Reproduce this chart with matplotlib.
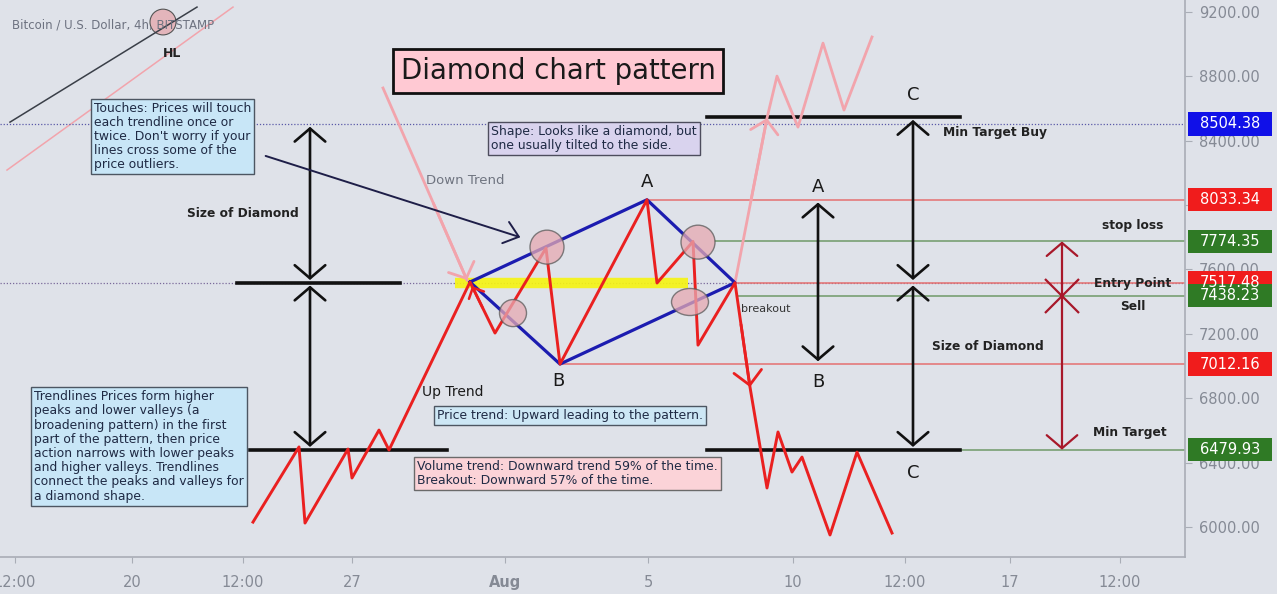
import matplotlib
matplotlib.use('Agg')
import matplotlib.pyplot as plt
from matplotlib.patches import Ellipse, Rectangle
from matplotlib.transforms import blended_transform_factory

BG = '#dfe2e9'
RED = '#ea2020'
BLUE = '#1c1cb0'
PINK = '#f2a4ac'
MAROON = '#a8182a'
GRID_TXT = '#858a95'

# time axis: bar positions and their labels
tick_pos = [15, 132, 243, 352, 505, 648, 793, 905, 1010, 1120]
tick_lbl = ['12:00', '20', '12:00', '27', 'Aug', '5', '10', '12:00', '17', '12:00']

# main price path (bar, USD)
path_x = [253, 299, 305, 348, 352, 379, 389, 470, 495, 546, 560, 647, 657,
          693, 698, 735, 750, 767, 778, 792, 802, 830, 857, 892]
path_y = [6030, 6497, 6024, 6484, 6304, 6602, 6478, 7522, 7205, 7733,
          7012.16, 8033.34, 7516, 7774.35, 7130, 7517.48, 6869, 6242, 6590,
          6341, 6434, 5950, 6465, 5962]

# faded alternative: upside breakout
alt_x = [735, 767, 777, 798, 823, 844, 872]
alt_y = [7517.48, 8541, 8802, 8485, 9007, 8591, 9045]

# faded down trend arrow into the pattern
down_x = [383, 467]
down_y = [8728, 7534]

# diamond outline: left, A, right, B
diamond_x = [470, 647, 735, 560, 470]
diamond_y = [7522, 8033.34, 7517.48, 7012.16, 7522]

# price levels shown on the right scale
levels = [8504.38, 8033.34, 7774.35, 7517.48, 7438.23, 7012.16, 6479.93]
level_colors = ['#1010e8', '#f01c1c', '#2f7a25', '#f01c1c', '#2f7a25',
                '#f01c1c', '#2f7a25']
level_start = [None, 647, 715, 735, 738, 560, 960]
c_top = 8547

# touch points on the trendlines (bar, USD, width in bars, height in USD)
touches = [(547, 7739, 34, 211), (513, 7329, 27, 168),
           (698, 7770, 34, 211), (690, 7398, 37, 168)]

scale_ticks = list(range(6000, 9201, 400))


def along(xs, ys, i, f):
    """point at fraction f of segment i of a polyline"""
    return (xs[i] + f * (xs[i + 1] - xs[i]), ys[i] + f * (ys[i + 1] - ys[i]))


fig = plt.figure(figsize=(12.77, 5.94), dpi=100, facecolor=BG)
ax = fig.add_axes([0, 37 / 594, 1185 / 1277, 557 / 594])
ax.set_facecolor(BG)
ax.set_xlim(0, 1185)
ax.set_ylim(5813, 9275)

for s in ['left', 'top']:
    ax.spines[s].set_visible(False)
for s in ['right', 'bottom']:
    ax.spines[s].set_color('#a9adb6')
    ax.spines[s].set_linewidth(1.2)

ax.yaxis.tick_right()
ax.set_yticks(scale_ticks)
# 8000 sits under the 8033.34 tag
ax.set_yticklabels(['' if v == 8000 else f'{v:.2f}' for v in scale_ticks])
ax.tick_params(axis='y', length=5, pad=5, colors='#a9adb6',
               labelcolor=GRID_TXT, labelsize=10.5)
ax.set_xticks(tick_pos)
ax.set_xticklabels(tick_lbl)
ax.tick_params(axis='x', length=4, pad=9, colors='#a9adb6',
               labelcolor=GRID_TXT, labelsize=10.5)
for t in ax.get_xticklabels():
    if t.get_text() == 'Aug':
        t.set_fontweight('bold')

# leftover of the underlying chart in the corner
ax.plot([10, 197], [8516, 9231], color='#3a3f48', lw=1.1)
ax.plot([7, 233], [8218, 9231], color=PINK, lw=1.1)
ax.add_patch(Ellipse((163, 9138), 26, 160, fc='#e3b5bb', ec='#555', lw=0.8))
ax.text(12, 9119, 'Bitcoin / U.S. Dollar, 4h, BITSTAMP', color='#6d7280',
        fontsize=8.5, va='center')
ax.text(172, 8945, 'HL', fontsize=9, fontweight='bold', color='#222',
        ha='center', va='center')

# dotted price lines across the chart
ax.axhline(levels[0], color='#5a5aa8', lw=0.9, ls=(0, (1, 1.5)))
ax.axhline(levels[3], color='#7a6a9a', lw=0.9, ls=(0, (1, 1.5)))

# thin level lines to the price scale
for v, c, x0 in zip(levels, level_colors, level_start):
    if x0 is None:
        continue
    lc = '#e57070' if c == '#f01c1c' else '#6f9a68'
    ax.plot([x0, 1185], [v, v], color=lc, lw=1.1)

# yellow band at the entry level
ax.plot([455, 688], [levels[3], levels[3]], color='#f6f410', lw=7.5,
        solid_capstyle='butt', alpha=0.9)

# thick black reference lines
ax.plot([237, 400], [levels[3], levels[3]], color='#111', lw=2.6)
ax.plot([250, 447], [levels[6], levels[6]], color='#111', lw=2.6)
ax.plot([707, 960], [c_top, c_top], color='#111', lw=2.6)
ax.plot([707, 960], [levels[6], levels[6]], color='#111', lw=2.6)

head = '->,head_length=0.45,head_width=0.5'

# faded paths
ax.plot(alt_x, alt_y, color=PINK, lw=2)
ax.annotate('', xy=(alt_x[1], alt_y[1]), xytext=along(alt_x, alt_y, 0, 0.5),
            arrowprops=dict(arrowstyle=head, color=PINK, lw=2,
                            mutation_scale=20, shrinkA=0, shrinkB=0))
ax.plot(down_x, down_y, color=PINK, lw=2)
ax.annotate('', xy=(down_x[1], down_y[1]),
            xytext=along(down_x, down_y, 0, 0.6),
            arrowprops=dict(arrowstyle=head, color=PINK, lw=2,
                            mutation_scale=20, shrinkA=0, shrinkB=0))

# diamond and price path
ax.plot(diamond_x, diamond_y, color=BLUE, lw=2.3, zorder=4)
ax.plot(path_x, path_y, color=RED, lw=2.1, zorder=5)
ax.annotate('', xy=(path_x[16], path_y[16]),
            xytext=along(path_x, path_y, 15, 0.4),
            arrowprops=dict(arrowstyle='->,head_length=0.5,head_width=0.5',
                            color=RED, lw=2, mutation_scale=20,
                            shrinkA=0, shrinkB=0), zorder=5)
ax.annotate('', xy=along(path_x, path_y, 7, 0.08),
            xytext=along(path_x, path_y, 7, 0.5),
            arrowprops=dict(arrowstyle='->,head_length=0.3,head_width=0.3',
                            color=RED, lw=1.8, mutation_scale=20,
                            shrinkA=0, shrinkB=0), zorder=5)

for cx, cy, w, h in touches:
    ax.add_patch(Ellipse((cx, cy), w, h, fc='#e6a9b2', ec='#5a5a5a', lw=1,
                         alpha=0.75, zorder=6))

# measuring arrows
arrow_kw = dict(arrowstyle='<->,head_length=0.47,head_width=0.55',
                color='#111', lw=1.9, mutation_scale=20, shrinkA=2, shrinkB=2)
for x, y0, y1 in [(310, levels[0], levels[3]), (310, levels[3], levels[6]),
                  (913, c_top, levels[3]), (913, levels[3], levels[6]),
                  (818, levels[1], levels[5])]:
    ax.annotate('', xy=(x, y1), xytext=(x, y0), arrowprops=arrow_kw)

red_kw = dict(arrowstyle='->,head_length=0.47,head_width=0.55',
              color=MAROON, lw=1.6, mutation_scale=20, shrinkA=0, shrinkB=0)
ax.annotate('', xy=(1062, levels[2]), xytext=(1062, levels[4]),
            arrowprops=red_kw)
ax.annotate('', xy=(1062, levels[6]), xytext=(1062, levels[4]),
            arrowprops=red_kw)
ax.plot([1062], [levels[4]], marker='x', ms=24, mew=1.6, color=MAROON)

# pointer from the touches note
ax.annotate('', xy=(523, 7795), xytext=(263, 8311),
            arrowprops=dict(arrowstyle='->,head_length=0.5,head_width=0.4',
                            color='#1e1e48', lw=1.4, mutation_scale=20))

# notes
txt = '#1f2a44'
note_fs = 8.9
ax.text(558, 8833, 'Diamond chart pattern', fontsize=19.8, color='#1a1a1a',
        ha='center', va='center',
        bbox=dict(boxstyle='square,pad=0.28', fc='#ffc9d3', ec='#111', lw=2))
ax.text(94, 8640, "Touches: Prices will touch\neach trendline once or\n"
        "twice. Don't worry if your\nlines cross some of the\nprice outliers.",
        fontsize=note_fs, color=txt, va='top', linespacing=1.1,
        bbox=dict(boxstyle='square,pad=0.25', fc='#c8e6f7', ec='#4d5662', lw=1))
ax.text(491, 8497, 'Shape: Looks like a diamond, but\none usually tilted to the side.',
        fontsize=note_fs, color=txt, va='top', linespacing=1.1,
        bbox=dict(boxstyle='square,pad=0.25', fc='#d9d3ee', ec='#4d4d5d', lw=1))
ax.text(34, 6850, 'Trendlines Prices form higher\npeaks and lower valleys (a\n'
        'broadening pattern) in the first\npart of the pattern, then price\n'
        'action narrows with lower peaks\nand higher valleys. Trendlines\n'
        'connect the peaks and valleys for\na diamond shape.',
        fontsize=note_fs, color=txt, va='top', linespacing=1.12,
        bbox=dict(boxstyle='square,pad=0.25', fc='#c8e6f7', ec='#4d5662', lw=1))
ax.text(570, 6695, 'Price trend: Upward leading to the pattern.',
        fontsize=note_fs, color=txt, ha='center', va='center',
        bbox=dict(boxstyle='square,pad=0.25', fc='#cde7f5', ec='#4d5662', lw=1))
ax.text(417, 6418, 'Volume trend: Downward trend 59% of the time.\n'
        'Breakout: Downward 57% of the time.',
        fontsize=note_fs, color=txt, va='top', linespacing=1.1,
        bbox=dict(boxstyle='square,pad=0.25', fc='#fbd3d8', ec='#6a6a6a', lw=1))

ax.text(465, 8156, 'Down Trend', fontsize=9.5, color='#6f7480',
        ha='center', va='center')
ax.text(453, 6838, 'Up Trend', fontsize=10, color='#1a1a1a',
        ha='center', va='center')
ax.text(766, 7354, 'breakout', fontsize=8, color='#333',
        ha='center', va='center')

for x, y, s in [(647, 8144, 'A'), (558, 6907, 'B'), (818, 8112, 'A'),
                (818, 6900, 'B'), (913, 8684, 'C'), (913, 6335, 'C')]:
    ax.text(x, y, s, fontsize=13, color='#1a1a1a', ha='center', va='center')

bold_kw = dict(fontsize=8.8, fontweight='bold', color='#222',
               ha='center', va='center')
ax.text(243, 7951, 'Size of Diamond', **bold_kw)
ax.text(988, 7124, 'Size of Diamond', **bold_kw)
ax.text(995, 8454, 'Min Target Buy', **bold_kw)
ax.text(1133, 7876, 'stop loss', **bold_kw)
ax.text(1133, 7516, 'Entry Point', **bold_kw)
ax.text(1133, 7373, 'Sell', **bold_kw)
ax.text(1130, 6584, 'Min Target', **bold_kw)

# value tags on the price scale
blend = blended_transform_factory(ax.transAxes, ax.transData)
for v, c in zip(levels, level_colors):
    ax.add_patch(Rectangle((1188 / 1185, v - 72), 84 / 1185, 144,
                           transform=blend, fc=c, ec='none', clip_on=False,
                           zorder=10))
    ax.text(1230 / 1185, v, f'{v:.2f}', transform=blend, color='white',
            fontsize=10.5, ha='center', va='center', clip_on=False, zorder=11)

fig.savefig('out.png', dpi=100, facecolor=BG)
